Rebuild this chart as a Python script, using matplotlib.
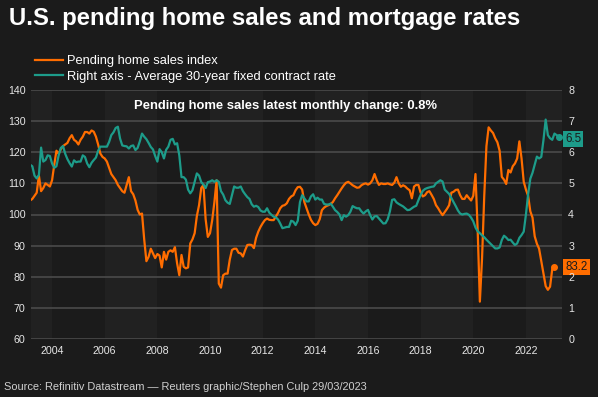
import matplotlib
matplotlib.use("Agg")
import matplotlib.pyplot as plt
import matplotlib.transforms as mtransforms
import numpy as np

plt.rcParams['font.family'] = ['Liberation Sans', 'DejaVu Sans']

# ---------------- data ----------------
# Pending home sales index, monthly, Mar 2003 .. Feb 2023
pending_start = (2003, 3)
pending = [
    104.5, 105, 106, 107, 112.5, 107.5, 108.5, 110, 109.5, 109,
    111, 116, 120.5, 119.5, 121, 122, 122.5, 123, 124.5, 125.5,
    124, 123.5, 122.5, 124, 125, 126.5, 126.5, 126, 127, 126.6,
    125, 122.5, 119.6, 118.5, 118, 117, 115, 113, 112, 111,
    109.5, 108.5, 107.5, 107, 109.5, 112, 107.5, 106.5, 104.5, 101.5,
    100, 100.3, 92, 85, 86.4, 89, 87.5, 86, 87.3, 86.8,
    83, 88, 85.5, 88, 88.5, 88, 89.5, 84.3, 80.5, 87,
    83.2, 82.7, 83, 90.7, 92, 94, 99.5, 103, 108.5, 109.5,
    98.5, 92.8, 94, 98.2, 104, 111, 77.8, 76.5, 80.5, 81,
    81, 85.5, 88.6, 89, 89, 87.7, 87.5, 86.5, 88.5, 90.2,
    90.3, 90.2, 89.2, 92.5, 94.5, 96, 97.2, 98.2, 98.7, 98.3,
    98.2, 98.2, 99.3, 100.5, 102, 102.8, 103, 103.6, 105, 105.8,
    106.2, 107.8, 108.8, 108.9, 108, 104, 102, 100, 98.3, 97.2,
    96.6, 97, 98.5, 101.4, 102.2, 102.7, 103, 103.4, 104, 105.2,
    106.2, 107.3, 108.4, 109.4, 110.2, 110.5, 110, 109.4, 109, 108.6,
    108.7, 109.4, 109.8, 110, 109.6, 110, 111, 113, 111, 109.5,
    110, 109.8, 109.8, 110, 109.7, 109.5, 110.2, 112, 110, 108.9,
    109.4, 109, 108.3, 107.8, 105.2, 109, 109.5, 109.5, 107, 105.8,
    106.2, 107.2, 107.5, 106.3, 105, 103, 102, 100.8, 99.8, 100.8,
    101.8, 103, 107, 107.3, 107.9, 108, 106.2, 105, 105, 106.2,
    105.3, 104.5, 106, 113, 95, 72, 86, 106, 122, 128,
    127, 126.2, 124.5, 123.2, 120.5, 112.1, 111.2, 109.8, 114.3, 113.5,
    115.5, 116.4, 118, 123.5, 118, 110.5, 108, 106, 101, 99,
    93, 90.6, 89, 85, 81, 77, 75.8, 76.8, 82.5, 83.2,
]

# Average 30-year fixed contract rate (%), monthly, Mar 2003 .. Apr 2023
rate_start = (2003, 3)
rate = [
    5.60, 5.55, 5.25, 5.16, 5.27, 6.15, 5.70, 5.75, 5.90, 5.88,
    5.64, 5.50, 5.55, 5.90, 6.14, 6.20, 5.95, 5.78, 5.65, 5.54,
    5.74, 5.68, 5.70, 5.70, 5.90, 5.85, 5.64, 5.52, 5.66, 5.75,
    5.83, 6.05, 6.18, 6.18, 6.18, 6.18, 6.33, 6.55, 6.64, 6.78,
    6.82, 6.44, 6.22, 6.20, 6.19, 6.12, 6.20, 6.22, 6.07, 6.14,
    6.35, 6.60, 6.50, 6.42, 6.30, 6.17, 6.09, 5.88, 5.70, 6.10,
    6.00, 5.80, 6.08, 6.18, 6.40, 6.43, 6.25, 6.29, 5.90, 5.20,
    5.20, 5.12, 4.80, 4.68, 4.78, 5.05, 5.32, 5.25, 5.04, 4.96,
    4.85, 5.04, 5.06, 5.10, 5.05, 5.10, 5.05, 4.75, 4.64, 4.46,
    4.38, 4.34, 4.62, 4.90, 4.86, 4.86, 4.90, 4.75, 4.65, 4.56,
    4.50, 4.33, 4.25, 4.28, 4.24, 4.13, 4.09, 4.09, 4.20, 4.06,
    3.99, 3.93, 3.91, 3.84, 3.71, 3.56, 3.58, 3.60, 3.60, 3.80,
    3.77, 3.66, 3.80, 4.40, 4.62, 4.52, 4.42, 4.42, 4.58, 4.65,
    4.48, 4.54, 4.48, 4.48, 4.34, 4.32, 4.32, 4.35, 4.25, 4.14,
    4.08, 4.00, 3.82, 3.98, 3.93, 3.98, 4.09, 4.27, 4.23, 4.20,
    4.20, 4.10, 4.03, 4.10, 4.15, 3.98, 3.84, 3.94, 3.95, 3.87,
    3.79, 3.71, 3.72, 3.85, 4.10, 4.47, 4.49, 4.39, 4.34, 4.30,
    4.26, 4.20, 4.14, 4.15, 4.20, 4.25, 4.28, 4.46, 4.63, 4.76,
    4.82, 4.85, 4.87, 4.89, 4.90, 5.00, 5.05, 5.10, 5.06, 4.80,
    4.73, 4.66, 4.53, 4.40, 4.27, 4.13, 4.03, 4.00, 4.02, 4.03,
    3.99, 3.90, 3.78, 3.58, 3.46, 3.40, 3.33, 3.27, 3.19, 3.12,
    3.05, 2.98, 2.91, 2.91, 2.94, 3.18, 3.32, 3.26, 3.18, 3.19,
    3.10, 3.02, 3.07, 3.25, 3.34, 3.45, 4.00, 4.65, 5.15, 5.34,
    5.60, 5.86, 5.80, 5.85, 6.40, 7.05, 6.55, 6.45, 6.40, 6.60,
    6.55, 6.50,
]

pending_label = "83.2"
rate_label = "6.5"
latest_change = "0.8%"

title = "U.S. pending home sales and mortgage rates"
legend_labels = ["Pending home sales index",
                 "Right axis - Average 30-year fixed contract rate"]
source = "Source: Refinitiv Datastream \u2014 Reuters graphic/Stephen Culp 29/03/2023"
year_ticks = [2004, 2006, 2008, 2010, 2012, 2014, 2016, 2018, 2020, 2022]
left_ticks = [60, 70, 80, 90, 100, 110, 120, 130, 140]
right_ticks = [0, 1, 2, 3, 4, 5, 6, 7, 8]


def month_axis(start, n):
    y0, m0 = start
    return y0 + (m0 - 1 + np.arange(n)) / 12.0


x_p = month_axis(pending_start, len(pending))
x_r = month_axis(rate_start, len(rate))

# ---------------- style ----------------
BG = "#1b1b1b"
BAND = "#212121"
GRID = "#474747"
ORANGE = "#ff6d00"
TEAL = "#1d9c8a"
TXT = "#e6e6e6"

fig = plt.figure(figsize=(5.98, 3.97), dpi=100, facecolor=BG)
ax = fig.add_axes([31 / 598, 1 - 339 / 397, (562 - 31) / 598, (339 - 90) / 397])
ax.set_facecolor(BG)
ax2 = ax.twinx()

ax.set_xlim(2003.2, 2023.37)
ax.set_ylim(60, 140)
ax2.set_ylim(0, 8)

# alternating two-year background bands
for y0 in range(2002, 2024, 4):
    ax.axvspan(y0, y0 + 2, color=BAND, zorder=0, lw=0)

ax.set_yticks(left_ticks)
ax2.set_yticks(right_ticks)
ax.set_xticks(year_ticks)
ax.set_xticklabels([str(y) for y in year_ticks])
ax.grid(axis='y', color=GRID, lw=1.3, zorder=1)
ax.grid(axis='x', visible=False)
ax2.grid(False)
for a in (ax, ax2):
    for s in a.spines.values():
        s.set_visible(False)
ax.tick_params(axis='y', length=0, pad=4, labelsize=7.7, labelcolor=TXT)
ax.tick_params(axis='x', length=0, pad=5, labelsize=7.7, labelcolor=TXT)
ax2.tick_params(axis='y', length=0, pad=4.5, labelsize=7.7, labelcolor=TXT)

l1, = ax.plot(x_p, pending, color=ORANGE, lw=1.6, zorder=3)
l2, = ax2.plot(x_r, rate, color=TEAL, lw=1.6, zorder=3)
ax.plot(x_p[-1], pending[-1], 'o', color=ORANGE, ms=4, zorder=4)
ax2.plot(x_r[-1], rate[-1], 'o', color=TEAL, ms=4, zorder=4)

# end labels
tr1 = mtransforms.blended_transform_factory(ax.transAxes, ax.transData)
tr2 = mtransforms.blended_transform_factory(ax2.transAxes, ax2.transData)
ax.text(1.006, pending[-1], pending_label, transform=tr1, fontsize=8.3,
        color="#1b1b1b", va='center', ha='left', clip_on=False, zorder=6,
        bbox=dict(boxstyle='square,pad=0.18', fc=ORANGE, ec='none'))
ax2.text(1.006, rate[-1] - 0.07, rate_label, transform=tr2, fontsize=8.3,
         color="#1b1b1b", va='center', ha='left', clip_on=False, zorder=6,
         bbox=dict(boxstyle='square,pad=0.18', fc=TEAL, ec='none'))

# texts
fig.text(9 / 598, 1 - 19 / 397, title, fontsize=17.2, weight='bold',
         color='white', va='center', ha='left')
fig.legend([l1, l2], legend_labels, loc='upper left',
           bbox_to_anchor=(35 / 598, 1 - 55 / 397), frameon=False,
           fontsize=9.3, labelcolor='white', handlelength=2.15,
           handletextpad=0.35, labelspacing=0.3, borderpad=0, borderaxespad=0)
fig.text(285 / 598, 1 - 106 / 397,
         "Pending home sales latest monthly change: " + latest_change,
         fontsize=9.4, weight='bold', color='white', ha='center', va='center')
fig.text(4 / 598, 1 - 387 / 397, source, fontsize=7.9, color='#cfcfcf',
         ha='left', va='center')

fig.savefig("out.png", dpi=100, facecolor=BG)
